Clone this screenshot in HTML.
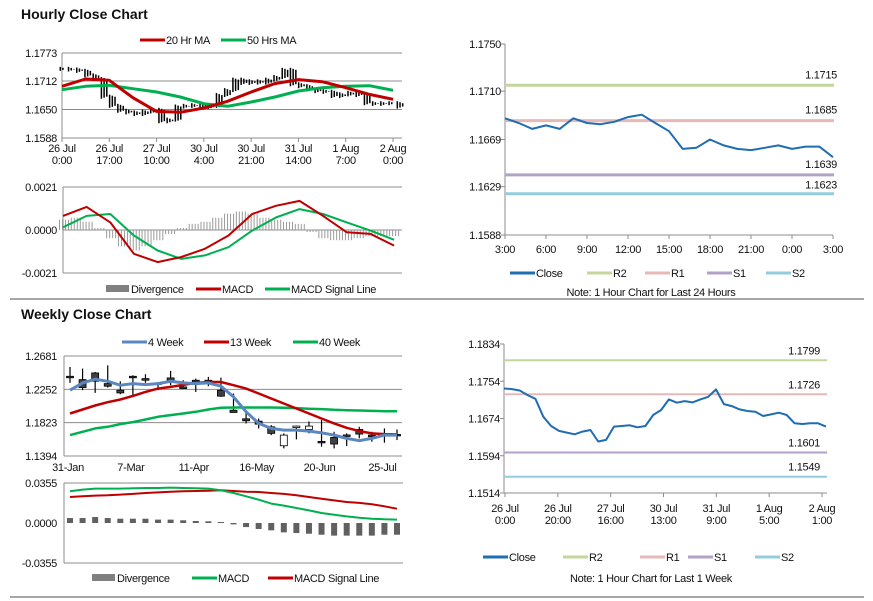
<!DOCTYPE html>
<html><head><meta charset="utf-8"><style>
body{margin:0;background:#fff;}
svg{display:block;font-family:"Liberation Sans",Arial,sans-serif;}
text{font-size:11px;fill:#111;letter-spacing:-0.3px;}
.ttl{font-size:14px;font-weight:bold;letter-spacing:0;}
</style></head><body>
<svg id="s" width="873" height="601" viewBox="0 0 873 601">
<text class="ttl" x="21" y="19">Hourly Close Chart</text>
<text class="ttl" x="21" y="319">Weekly Close Chart</text>
<line x1="10" y1="299" x2="864" y2="299" stroke="#888" stroke-width="1.5"/>
<line x1="10" y1="597" x2="864" y2="597" stroke="#888" stroke-width="1.5"/>
</svg>
<script>
// ---- Hourly left (candles + MAs) ----
const hCloseBars=[1.17385,1.17371,1.17342,1.17242,1.17164,1.16779,1.16580,1.16473,1.16437,1.16401,1.16458,1.16494,1.16245,1.16280,1.16565,1.16580,1.16594,1.16551,1.16580,1.16815,1.16922,1.17150,1.17079,1.17114,1.17086,1.17150,1.17207,1.17364,1.17050,1.17007,1.16936,1.16900,1.16886,1.16793,1.16829,1.16865,1.16815,1.16637,1.16622,1.16637,1.16637,1.16565];
const hMA20=[1.17005,1.17164,1.17135,1.16758,1.16460,1.16439,1.16533,1.16678,1.16881,1.17063,1.17150,1.17106,1.16975,1.16830,1.16722];
const hMA50=[1.16932,1.17005,1.17026,1.16954,1.16881,1.16772,1.16627,1.16569,1.16664,1.16772,1.16903,1.16975,1.17005,1.17019,1.16918];
const hYTicks=["1.1773","1.1712","1.1650","1.1588"];
const hXTicks=[["26 Jul","0:00"],["26 Jul","17:00"],["27 Jul","10:00"],["30 Jul","4:00"],["30 Jul","21:00"],["31 Jul","14:00"],["1 Aug","7:00"],["2 Aug","0:00"]];
// ---- Hourly MACD ----
const hMacd=[0.00069,0.00113,0.00037,-0.00116,-0.00157,-0.00132,-0.00092,-0.00027,0.00078,0.00118,0.00142,0.00069,-0.00011,-0.00019,-0.00076];
const hSignal=[0.00013,0.00069,0.00078,-0.00027,-0.00100,-0.00141,-0.00124,-0.00084,-0.00003,0.00061,0.00102,0.00078,0.00037,-0.00003,-0.00048];
const hDiv=[0.0005,0.0006,0.0004,0.0001,-0.0004,-0.0008,-0.0010,-0.0008,-0.0005,-0.0002,0.0001,0.0003,0.0004,0.0006,0.0008,0.0009,0.0008,0.0006,0.0005,0.0004,0.0003,-0.0001,-0.0004,-0.0005,-0.0005,-0.0004,-0.0003,-0.0003,-0.0003];
const hMacdTicks=["0.0021","0.0000","-0.0021"];
// ---- Hourly right 24h ----
const dClose=[1.1687,1.1683,1.1678,1.1681,1.1678,1.1687,1.1683,1.1682,1.1684,1.1688,1.1690,1.1683,1.1676,1.1661,1.1662,1.1669,1.1664,1.1661,1.1660,1.1662,1.1664,1.1661,1.1663,1.1663,1.1654];
const dLevels=[1.1715,1.1685,1.1639,1.1623];
const dYTicks=["1.1750","1.1710","1.1669","1.1629","1.1588"];
const dXTicks=["3:00","6:00","9:00","12:00","15:00","18:00","21:00","0:00","3:00"];
// ---- Weekly left candles ----
const wOpen=[1.2420,1.2377,1.2463,1.2326,1.2241,1.2420,1.2390,1.2335,1.2399,1.2283,1.2369,1.2369,1.2241,1.1984,1.1873,1.1843,1.1770,1.1526,1.1762,1.1736,1.1582,1.1633,1.1665,1.1736,1.1663,1.1685,1.1672];
const wClose=[1.2403,1.2275,1.2356,1.2292,1.2206,1.2403,1.2369,1.2326,1.2360,1.2262,1.2347,1.2347,1.2164,1.1954,1.1847,1.1804,1.1685,1.1663,1.1779,1.1779,1.1565,1.1548,1.1660,1.1676,1.1642,1.1663,1.1659];
const wHigh=[1.2540,1.2519,1.2476,1.2561,1.2356,1.2433,1.2446,1.2347,1.2489,1.2369,1.2390,1.2412,1.2403,1.2198,1.1984,1.1877,1.1792,1.1685,1.1787,1.1839,1.1856,1.1706,1.1685,1.1770,1.1706,1.1749,1.1736];
const wLow=[1.2335,1.2241,1.2206,1.2275,1.2189,1.2176,1.2335,1.2241,1.2305,1.2262,1.2219,1.2292,1.2155,1.1954,1.1813,1.1749,1.1663,1.1492,1.1608,1.1685,1.1514,1.1492,1.1522,1.1621,1.1578,1.1565,1.1599];
const wMA4=[1.2241,1.2335,1.2382,1.2356,1.2305,1.2326,1.2313,1.2326,1.2356,1.2335,1.2326,1.2335,1.2292,1.2155,1.1963,1.1813,1.1749,1.1727,1.1727,1.1715,1.1693,1.1663,1.1620,1.1591,1.1620,1.1663,1.1663];
const wMA13=[1.1941,1.1993,1.2044,1.2087,1.2121,1.2168,1.2219,1.2262,1.2283,1.2309,1.2335,1.2347,1.2347,1.2305,1.2262,1.2198,1.2134,1.2070,1.2005,1.1941,1.1877,1.1813,1.1757,1.1715,1.1685,1.1676,1.1672];
const wMA40=[1.1663,1.1706,1.1749,1.1770,1.1804,1.1830,1.1864,1.1898,1.1920,1.1941,1.1963,1.1993,1.2014,1.2018,1.2018,1.2018,1.2018,1.2014,1.2010,1.2001,1.1997,1.1988,1.1984,1.1980,1.1975,1.1971,1.1971];
const wYTicks=["1.2681","1.2252","1.1823","1.1394"];
const wXTicks=[["31-Jan",0],["7-Mar",5],["11-Apr",10],["16-May",15],["20-Jun",20],["25-Jul",25]];
// ---- Weekly MACD ----
const wMacd=[0.0281,0.0296,0.0305,0.0305,0.0305,0.0308,0.0311,0.0311,0.0314,0.0311,0.0308,0.0305,0.0290,0.0266,0.0237,0.0207,0.0172,0.0154,0.0133,0.0112,0.0089,0.0074,0.0059,0.0047,0.0038,0.0033,0.0030];
const wSignal=[0.0231,0.0237,0.0243,0.0246,0.0252,0.0258,0.0266,0.0272,0.0278,0.0281,0.0284,0.0287,0.0290,0.0284,0.0278,0.0275,0.0266,0.0258,0.0246,0.0231,0.0216,0.0201,0.0186,0.0178,0.0166,0.0148,0.0127];
const wDiv=[0.0044,0.0044,0.0053,0.0044,0.0038,0.0038,0.0038,0.0030,0.0030,0.0024,0.0018,0.0015,0.0009,-0.0012,-0.0036,-0.0053,-0.0065,-0.0083,-0.0089,-0.0095,-0.0104,-0.0112,-0.0112,-0.0112,-0.0112,-0.0104,-0.0104];
const wMacdTicks=["0.0355","0.0000","-0.0355"];
// ---- Weekly right (1 week hourly) ----
const kClose=[1.17385,1.17371,1.17342,1.17242,1.17164,1.16779,1.16580,1.16473,1.16437,1.16401,1.16458,1.16494,1.16245,1.16280,1.16565,1.16580,1.16594,1.16551,1.16580,1.16815,1.16922,1.17150,1.17079,1.17114,1.17086,1.17150,1.17207,1.17364,1.17050,1.17007,1.16936,1.16900,1.16886,1.16793,1.16829,1.16865,1.16815,1.16637,1.16622,1.16637,1.16637,1.16565];
const kLevels=[1.1799,1.1726,1.1601,1.1549];
const kYTicks=["1.1834","1.1754","1.1674","1.1594","1.1514"];
const kXTicks=[["26 Jul","0:00"],["26 Jul","20:00"],["27 Jul","16:00"],["30 Jul","13:00"],["31 Jul","9:00"],["1 Aug","5:00"],["2 Aug","1:00"]];

const S=document.getElementById('s');const NS='http://www.w3.org/2000/svg';
function mk(t,a,p){const e=document.createElementNS(NS,t);for(const k in a)e.setAttribute(k,a[k]);(p||S).appendChild(e);return e;}
function lin(d0,d1,r0,r1){return v=>r0+(v-d0)/(d1-d0)*(r1-r0);}
function txt(x,y,s,anchor){const e=mk('text',{x:x,y:y,'text-anchor':anchor||'start'});e.textContent=s;return e;}
function pathOf(arr,xs,ys){return arr.map((v,i)=>(i?'L':'M')+xs(i).toFixed(1)+' '+ys(v).toFixed(1)).join(' ');}
function grid(x0,x1,y,name){const e=mk('line',{x1:x0,x2:x1,y1:y,y2:y,stroke:'#8c8c8c','stroke-width':1});}
function series(arr,xs,ys,color,w,name){const e=mk('path',{d:pathOf(arr,xs,ys),fill:'none',stroke:color,'stroke-width':w,'stroke-linejoin':'round'});return e;}
function legLine(x,y,color,label,name,w){const g=mk('g',{});mk('line',{x1:x,x2:x+25,y1:y,y2:y,stroke:color,'stroke-width':w||3},g);const t=mk('text',{x:x+26,y:y+4},g);t.textContent=label;}
function legBox(x,y,label,name){const g=mk('g',{});mk('rect',{x:x,y:y-4,width:23,height:7,fill:'#808080'},g);const t=mk('text',{x:x+25,y:y+4},g);t.textContent=label;}
function yLabels(ticks,ys,vals,x,name){ticks.forEach((t,i)=>{const e=txt(x,ys(vals[i])+4,t,'end');});}

// ===== Hourly left =====
{const X0=62,X1=402,Y0=53,Y1=138;const ys=lin(1.1588,1.1773,Y1,Y0);
 hYTicks.forEach(t=>{grid(X0,X1,ys(+t),'hourly-gridline');});
 yLabels(hYTicks,ys,hYTicks.map(Number),57,'hourly-y-tick');
 mk('line',{x1:X0,x2:X0,y1:Y0,y2:Y1,stroke:'#8c8c8c'});
 const xt=lin(0,7,X0,393);
 hXTicks.forEach((t,i)=>{mk('line',{x1:xt(i),x2:xt(i),y1:Y1,y2:Y1+4,stroke:'#8c8c8c'});const a=txt(xt(i),152,t[0],'middle');const b=txt(xt(i),164,t[1],'middle');});
 const xb=lin(0,hCloseBars.length-1,63,400);
 const g=mk('g',{});
 hCloseBars.forEach((c,i)=>{const o=i?hCloseBars[i-1]:c;const a=Math.min(ys(o),ys(c))-2,b=Math.max(ys(o),ys(c))+2;
  for(let j=0;j<3;j++){const xx=xb(i)-2.7+j*2.7;const e=mk('line',{x1:xx,x2:xx,y1:a+j,y2:b-j,stroke:'#000','stroke-width':1.5},g);}});
 const xm=lin(0,14,X0,X0+14*23.65);
 series(hMA50,xm,ys,'#00b050',3,'ma-50-line');series(hMA20,xm,ys,'#c00000',3,'ma-20-line');
 legLine(140,40,'#c00000','20 Hr MA','legend-ma20');legLine(221,40,'#00b050','50 Hrs MA','legend-ma50');
}
// ===== Hourly MACD =====
{const X0=63,X1=402,Y0=187,Y1=273;const ys=lin(-0.0021,0.0021,Y1,Y0);
 grid(X0,X1,Y0,'hourly-macd-grid');grid(X0,X1,Y1,'hourly-macd-grid');grid(X0,X1,ys(0),'hourly-macd-zero');
 mk('line',{x1:X0,x2:X0,y1:Y0,y2:Y1,stroke:'#8c8c8c'});
 yLabels(hMacdTicks,ys,hMacdTicks.map(Number),57,'hourly-macd-tick');
 const xd=lin(0,hDiv.length-1,X0+1,X0+14*23.65);
 hDiv.forEach((v,i)=>{for(let j=0;j<4;j++){const xx=xd(i)-4.5+j*3;const e=mk('line',{x1:xx,x2:xx,y1:ys(0),y2:ys(v),stroke:'#9a9a9a','stroke-width':1});}});
 const xm=lin(0,14,X0,X0+14*23.65);
 series(hSignal,xm,ys,'#00b050',2,'hourly-signal-line');series(hMacd,xm,ys,'#c00000',2,'hourly-macd-line');
 legBox(106,289,'Divergence','legend-hourly-divergence');legLine(196,289,'#c00000','MACD','legend-hourly-macd');legLine(265,289,'#00b050','MACD Signal Line','legend-hourly-signal');
}
// ===== Hourly right 24h =====
{const X0=505,X1=833,Y0=44,Y1=235;const ys=lin(1.1588,1.1750,Y1,Y0);
 mk('line',{x1:X0,x2:X0,y1:Y0,y2:Y1,stroke:'#8c8c8c'});mk('line',{x1:X0,x2:X1,y1:Y1,y2:Y1,stroke:'#8c8c8c'});
 dYTicks.forEach(t=>{mk('line',{x1:X0-4,x2:X0,y1:ys(+t),y2:ys(+t),stroke:'#8c8c8c'});});
 yLabels(dYTicks,ys,dYTicks.map(Number),501,'daily-y-tick');
 const xt=lin(0,8,X0,X1);
 dXTicks.forEach((t,i)=>{mk('line',{x1:xt(i),x2:xt(i),y1:Y1,y2:Y1+4,stroke:'#8c8c8c'});const e=txt(xt(i),253,t,'middle');});
 const cols=['#c3d69b','#e6b9b8','#b3a2c7','#93cddd'];const nm=['r2','r1','s1','s2'];
 dLevels.forEach((v,i)=>{const e=mk('line',{x1:X0,x2:X1+1,y1:ys(v),y2:ys(v),stroke:cols[i],'stroke-width':3});const t=txt(837,ys(v)-(i==3?5:7),v.toFixed(4),'end');});
 const xs=lin(0,dClose.length-1,X0,X1);series(dClose,xs,ys,'#1f6db3',2,'daily-close-line');
 legLine(510,273,'#1f6db3','Close','legend-daily-close');legLine(587,273,'#c3d69b','R2','legend-daily-r2');legLine(645,273,'#e6b9b8','R1','legend-daily-r1');legLine(707,273,'#b3a2c7','S1','legend-daily-s1');legLine(766,273,'#93cddd','S2','legend-daily-s2');
 const n=txt(651,296,'Note: 1 Hour Chart for Last 24 Hours','middle');
}
// ===== Weekly left =====
{const X0=64,X1=402,Y0=356,Y1=456;const ys=lin(1.1394,1.2681,Y1,Y0);
 wYTicks.forEach(t=>grid(X0,X1,ys(+t),'weekly-gridline'));
 mk('line',{x1:X0,x2:X0,y1:Y0,y2:Y1,stroke:'#8c8c8c'});
 yLabels(wYTicks,ys,wYTicks.map(Number),57,'weekly-y-tick');
 const xs=lin(0,26,70,397);
 wXTicks.forEach(t=>{const e=txt(xs(t[1])-2,471,t[0],'middle');});
 wOpen.forEach((o,i)=>{const c=wClose[i];const x=xs(i);const w=mk('line',{x1:x,x2:x,y1:ys(wHigh[i]),y2:ys(wLow[i]),stroke:'#000','stroke-width':1.2});
  const t=Math.min(ys(o),ys(c)),h=Math.max(1.5,Math.abs(ys(o)-ys(c)));const r=mk('rect',{x:x-3.5,y:t,width:7,height:h,fill:c>o?'#fff':'#404040',stroke:'#000','stroke-width':0.8});});
 series(wMA40,xs,ys,'#00b050',2.5,'ma-40-week-line');series(wMA13,xs,ys,'#c00000',2.5,'ma-13-week-line');series(wMA4,xs,ys,'#5b87c0',3,'ma-4-week-line');
 legLine(122,342,'#5b87c0','4 Week','legend-4-week');legLine(204,342,'#c00000','13 Week','legend-13-week');legLine(293,342,'#00b050','40 Week','legend-40-week');
}
// ===== Weekly MACD =====
{const X0=64,X1=403,Y0=483,Y1=563;const ys=lin(-0.0355,0.0355,Y1,Y0);
 grid(X0,X1,Y0,'weekly-macd-grid');grid(X0,X1,Y1,'weekly-macd-grid');
 mk('line',{x1:X0,x2:X0,y1:Y0,y2:Y1,stroke:'#8c8c8c'});
 yLabels(wMacdTicks,ys,wMacdTicks.map(Number),57,'weekly-macd-tick');
 const xs=lin(0,26,70,397);
 wDiv.forEach((v,i)=>{const r=mk('rect',{x:xs(i)-3,y:Math.min(ys(0),ys(v)),width:6,height:Math.abs(ys(v)-ys(0)),fill:'#606060'});});
 series(wSignal,xs,ys,'#c00000',2,'weekly-signal-line');series(wMacd,xs,ys,'#00b050',2,'weekly-macd-line');
 legBox(92,578,'Divergence','legend-weekly-divergence');legLine(192,578,'#00b050','MACD','legend-weekly-macd');legLine(268,578,'#c00000','MACD Signal Line','legend-weekly-signal');
}
// ===== Weekly right =====
{const X0=504,X1=827,Y0=344,Y1=493;const ys=lin(1.1514,1.1834,Y1,Y0);
 mk('line',{x1:X0,x2:X0,y1:Y0,y2:Y1,stroke:'#8c8c8c'});mk('line',{x1:X0,x2:X1,y1:Y1,y2:Y1,stroke:'#8c8c8c'});
 kYTicks.forEach(t=>mk('line',{x1:X0-4,x2:X0,y1:ys(+t),y2:ys(+t),stroke:'#8c8c8c'}));
 yLabels(kYTicks,ys,kYTicks.map(Number),500,'week-hourly-y-tick');
 const xt=lin(0,6,X0+1,822);
 kXTicks.forEach((t,i)=>{mk('line',{x1:xt(i),x2:xt(i),y1:Y1,y2:Y1+4,stroke:'#8c8c8c'});const a=txt(xt(i),512,t[0],'middle');const b=txt(xt(i),524,t[1],'middle');});
 const cols=['#c3d69b','#e6b9b8','#b3a2c7','#93cddd'];const nm=['r2','r1','s1','s2'];
 kLevels.forEach((v,i)=>{const e=mk('line',{x1:X0,x2:X1,y1:ys(v),y2:ys(v),stroke:cols[i],'stroke-width':2});const t=txt(820,ys(v)-6,v.toFixed(4),'end');});
 const xs=lin(0,kClose.length-1,X0,X1-1);series(kClose,xs,ys,'#1f6db3',2,'week-close-line');
 legLine(483,557,'#1f6db3','Close','legend-week-close');legLine(563,557,'#c3d69b','R2','legend-week-r2');legLine(640,557,'#e6b9b8','R1','legend-week-r1');legLine(688,557,'#b3a2c7','S1','legend-week-s1');legLine(755,557,'#93cddd','S2','legend-week-s2');
 const n=txt(651,582,'Note: 1 Hour Chart for Last 1 Week','middle');
}
</script>
</body></html>
